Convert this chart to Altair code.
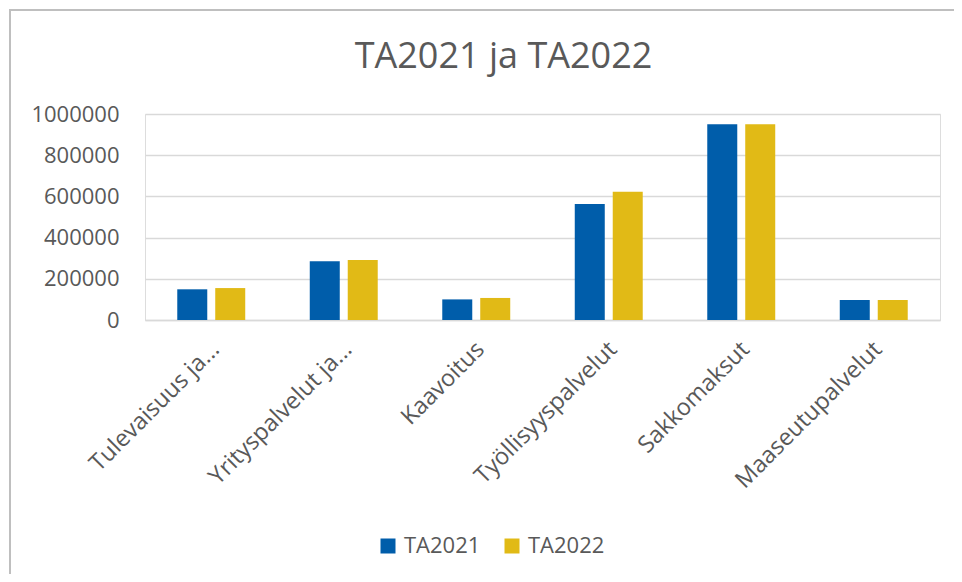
import altair as alt
import pandas as pd

categories = ["Tulevaisuus ja...", "Yrityspalvelut ja...", "Kaavoitus",
              "Työllisyyspalvelut", "Sakkomaksut", "Maaseutupalvelut"]
series_names = ["TA2021", "TA2022"]
ta2021 = [149000, 285000, 100000, 563000, 950000, 97000]
ta2022 = [155000, 291000, 107000, 623000, 950000, 97000]
y_ticks = [0, 200000, 400000, 600000, 800000, 1000000]
colors = ["#005DAA", "#E1BA16"]

rows = []
for c, a, b in zip(categories, ta2021, ta2022):
    rows.append({"cat": c, "series": series_names[0], "value": a})
    rows.append({"cat": c, "series": series_names[1], "value": b})
df = pd.DataFrame(rows)

FONT = "Open Sans"
GREY = "#595959"

bars = alt.Chart(df).mark_bar().encode(
    x=alt.X("cat:N", sort=categories, title=None,
            scale=alt.Scale(paddingInner=0.487, paddingOuter=0.2435),
            axis=alt.Axis(labelAngle=-45, labelAlign="right", labelBaseline="top",
                          labelPadding=17, labelOffset=-4, labelFontSize=23.5, labelFont=FONT,
                          labelColor=GREY, ticks=False, domain=True,
                          domainColor="#D9D9D9", domainWidth=1.5, labelLimit=400)),
    xOffset=alt.XOffset("series:N", sort=series_names,
                        scale=alt.Scale(paddingInner=0.21, paddingOuter=0)),
    y=alt.Y("value:Q", title=None,
            scale=alt.Scale(domain=[0, 1000000], nice=False),
            axis=alt.Axis(values=y_ticks, format="d", labelFontSize=22, labelFont=FONT,
                          labelColor=GREY, labelPadding=26, ticks=False, domain=False,
                          gridColor="#D9D9D9", gridWidth=1.5)),
    color=alt.Color("series:N", sort=series_names,
                    scale=alt.Scale(domain=series_names, range=colors),
                    legend=alt.Legend(title=None, orient="none", direction="horizontal",
                                      legendX=232, legendY=421,
                                      symbolType="square", symbolSize=225,
                                      symbolStrokeWidth=0, labelFontSize=22,
                                      labelFont=FONT, labelColor=GREY,
                                      labelOffset=5, columnPadding=20)),
)

frame_df = pd.DataFrame({"k": [0]})
left_border = alt.Chart(frame_df).mark_rule(color="#BFBFBF", strokeWidth=2).encode(
    x=alt.value(-135), y=alt.value(-104), y2=alt.value(470))
top_border = alt.Chart(frame_df).mark_rule(color="#BFBFBF", strokeWidth=2).encode(
    x=alt.value(-136), x2=alt.value(809), y=alt.value(-104))

chart = alt.layer(bars, left_border, top_border).properties(
    width=795, height=206,
    title=alt.Title("TA2021 ja TA2022", fontSize=36, font=FONT, color=GREY,
                    fontWeight="normal", anchor="middle", dx=-39, offset=-67),
    autosize=alt.AutoSizeParams(type="none"),
    padding={"left": 137, "top": 106, "right": 14, "bottom": 254},
).configure_view(stroke=None).configure(background="white")

chart.save("out.html", embed_options={"renderer": "svg", "actions": False})
